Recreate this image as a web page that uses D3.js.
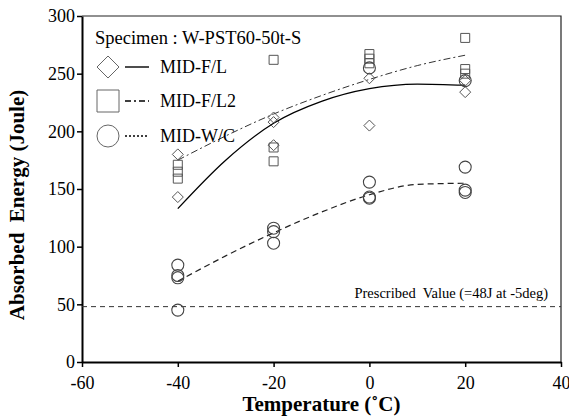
<!DOCTYPE html>
<html>
<head>
<meta charset="utf-8">
<script src="https://cdn.jsdelivr.net/npm/d3@7"></script>
<style>
  body { margin: 0; background: #fff; }
  text { font-family: "Liberation Serif", "DejaVu Serif", serif; }
</style>
</head>
<body>
<svg id="canvas" width="569" height="417"></svg>
<script>
// datos
const xTicks = [-60, -40, -20, 0, 20, 40];
const yTicks = [0, 50, 100, 150, 200, 250, 300];

// puntos medidos [temperatura, energia]
const midFL = [[-40, 180], [-40, 143], [-20, 212], [-20, 208], [-20, 188], [0, 246], [0, 205], [20, 234], [20, 244]];
const midFL2 = [[-40, 171], [-40, 165], [-40, 159], [-20, 262], [-20, 186], [-20, 174], [0, 267], [0, 263], [0, 259], [20, 281], [20, 254], [20, 250]];
const midWC = [[-40, 84], [-40, 75], [-40, 73], [-40, 45], [-20, 116], [-20, 113], [-20, 103], [0, 156], [0, 143], [0, 142], [0, 255], [20, 169], [20, 149], [20, 147], [20, 244]];

// curvas de ajuste
const fitFL = [[-40, 133], [-30, 175], [-20, 207], [-10, 226], [0, 237], [10, 241], [20, 240]];
const fitFL2 = [[-40, 175], [-30, 196], [-20, 215], [-10, 231], [0, 245], [10, 257], [20, 266]];
const fitWC = [[-40, 70], [-30, 92], [-20, 112], [-10, 130], [0, 145], [10, 154], [20, 155]];

const prescribed = 48;
const legendNames = ['MID-F/L', 'MID-F/L2', 'MID-W/C'];

let svg = d3.select('#canvas');
let mLeft = 82, mRight = 561, mTop = 16, mBottom = 362;

let x = d3.scaleLinear().domain([-60, 40]).range([mLeft, mRight]);
let y = d3.scaleLinear().domain([0, 300]).range([mBottom, mTop]);

// marco superior y derecho (fino)
svg.append('path')
    .attr('d', `M${mLeft},${mTop}H${mRight}V${mBottom}`)
    .attr('fill', 'none').attr('stroke', '#222').attr('stroke-width', 1.2);

// ejes
let xAxis = svg.append('g').attr('transform', `translate(0,${mBottom})`)
    .call(d3.axisBottom(x).tickValues(xTicks).tickSize(5).tickSizeOuter(0).tickFormat(d3.format('d')));
let yAxis = svg.append('g').attr('transform', `translate(${mLeft},0)`)
    .call(d3.axisLeft(y).tickValues(yTicks).tickSize(5).tickSizeOuter(0));
[xAxis, yAxis].forEach(g => {
    g.select('.domain').attr('stroke', '#000').attr('stroke-width', 2);
    g.selectAll('.tick line').attr('stroke', '#000').attr('stroke-width', 1.5);
    g.selectAll('.tick text').attr('fill', '#000').style('font-size', '18px')
        .style('font-family', '"Liberation Serif", serif');
});
xAxis.selectAll('.tick text').attr('dy', '1.05em').text(d => d < 0 ? '-' + Math.abs(d) : d);
yAxis.selectAll('.tick text').attr('x', -7);

// titulos
svg.append('text').attr('x', (mLeft + mRight) / 2).attr('y', 411).attr('text-anchor', 'middle')
    .style('font-size', '21px').style('font-weight', 'bold').text('Temperature (\u02DAC)');
svg.append('text').attr('transform', `translate(24,205) rotate(-90)`)
    .attr('text-anchor', 'middle').style('font-size', '21px').style('font-weight', 'bold')
    .attr('xml:space', 'preserve').text('Absorbed  Energy (Joule)');

// valor prescrito
svg.append('line').attr('x1', mLeft).attr('x2', mRight).attr('y1', y(prescribed)).attr('y2', y(prescribed))
    .attr('stroke', '#333').attr('stroke-width', 1).attr('stroke-dasharray', '5,4');
svg.append('text').attr('x', 548).attr('y', y(prescribed) - 9).attr('text-anchor', 'end')
    .style('font-size', '14.5px').attr('xml:space', 'preserve').text('Prescribed  Value (=48J at -5deg)');

// curvas
let line = d3.line().x(d => x(d[0])).y(d => y(d[1])).curve(d3.curveMonotoneX);
svg.append('path').datum(fitFL).attr('d', line).attr('fill', 'none').attr('stroke', '#000').attr('stroke-width', 1.3);
svg.append('path').datum(fitFL2).attr('d', line).attr('fill', 'none').attr('stroke', '#333').attr('stroke-width', 1)
    .attr('stroke-dasharray', '7,3,2,3');
svg.append('path').datum(fitWC).attr('d', line).attr('fill', 'none').attr('stroke', '#222').attr('stroke-width', 1.2)
    .attr('stroke-dasharray', '6,4');

// simbolos
let diamond = (cx, cy, r) => `M${cx},${cy - r}L${cx + r},${cy}L${cx},${cy + r}L${cx - r},${cy}Z`;
let square = (cx, cy, r) => `M${cx - r},${cy - r}h${2 * r}v${2 * r}h${-2 * r}Z`;

svg.append('g').selectAll('path').data(midFL).enter().append('path')
    .attr('d', d => diamond(x(d[0]), y(d[1]), 5.5))
    .attr('fill', 'none').attr('stroke', '#555').attr('stroke-width', 1);
svg.append('g').selectAll('path').data(midFL2).enter().append('path')
    .attr('d', d => square(x(d[0]), y(d[1]), 4.5))
    .attr('fill', 'none').attr('stroke', '#555').attr('stroke-width', 1);
svg.append('g').selectAll('circle').data(midWC).enter().append('circle')
    .attr('cx', d => x(d[0])).attr('cy', d => y(d[1])).attr('r', 6)
    .attr('fill', 'none').attr('stroke', '#444').attr('stroke-width', 1.1);

// leyenda
let lg = svg.append('g');
lg.append('text').attr('x', 95).attr('y', 44).style('font-size', '18.5px').text('Specimen : W-PST60-50t-S');
let rows = [67, 101, 136];
lg.append('path').attr('d', diamond(108, rows[0], 11)).attr('fill', 'none').attr('stroke', '#666');
lg.append('path').attr('d', square(108, rows[1], 11)).attr('fill', 'none').attr('stroke', '#666');
lg.append('circle').attr('cx', 108).attr('cy', rows[2]).attr('r', 11).attr('fill', 'none').attr('stroke', '#666');
let dashes = [null, '6,3,2,3', '2,2'];
rows.forEach((ry, i) => {
    lg.append('line').attr('x1', 125).attr('x2', 149).attr('y1', ry).attr('y2', ry)
        .attr('stroke', '#000').attr('stroke-width', 1.4).attr('stroke-dasharray', dashes[i]);
    lg.append('text').attr('x', 160).attr('y', ry + 6).style('font-size', '18px').text(legendNames[i]);
});
</script>
</body>
</html>
